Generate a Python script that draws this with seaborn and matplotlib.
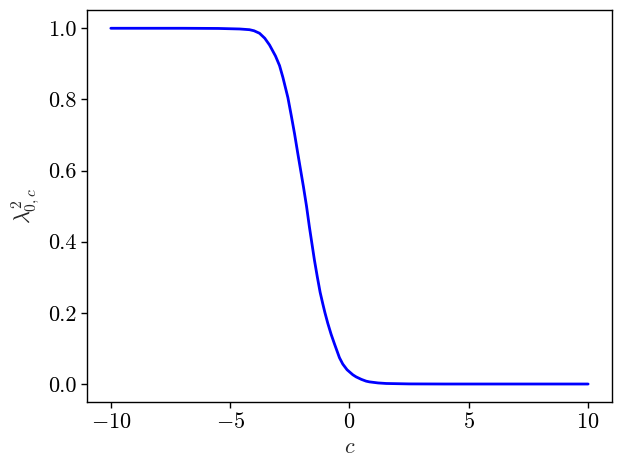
import matplotlib
matplotlib.use("Agg")
import matplotlib.pyplot as plt
import seaborn as sns
import pandas as pd

c_values = [-10.0, -7.0, -5.5, -4.6, -4.19, -4.0, -3.77, -3.55, -3.35, -3.1, -2.93, -2.79,
            -2.58, -2.44, -2.3, -2.17, -1.93, -1.8, -1.68, -1.47, -1.35, -1.23, -1.12,
            -1.03, -0.91, -0.77, -0.63, -0.42, -0.28, -0.1, 0.14, 0.28, 0.5, 0.70, 0.84,
            1.2, 1.54, 2.5, 4.0, 7.0, 10.0]
lam_values = [1.0, 1.0, 0.9995, 0.998, 0.996, 0.993, 0.986, 0.972, 0.953, 0.922, 0.895, 0.862,
              0.805, 0.755, 0.703, 0.650, 0.555, 0.500, 0.442, 0.349, 0.302, 0.258, 0.226,
              0.201, 0.171, 0.140, 0.113, 0.074, 0.056, 0.040, 0.026, 0.020, 0.013, 0.008, 0.006,
              0.003, 0.0015, 0.0003, 0.0, 0.0, 0.0]

df = pd.DataFrame({"c": c_values, "lam": lam_values})

sns.set_style("ticks")
plt.rcParams["font.family"] = ["serif"]
plt.rcParams["font.serif"] = ["cmr10", "DejaVu Serif"]
plt.rcParams["mathtext.fontset"] = "cm"
plt.rcParams["axes.formatter.use_mathtext"] = True
plt.rcParams["axes.unicode_minus"] = True

fig, ax = plt.subplots(figsize=(6.23, 4.70), dpi=100)
sns.lineplot(data=df, x="c", y="lam", color="blue", linewidth=2.0, ax=ax)
ax.set_xlim(-11, 11)
ax.set_ylim(-0.05, 1.05)
ax.set_xticks([-10, -5, 0, 5, 10])
ax.set_yticks([0.0, 0.2, 0.4, 0.6, 0.8, 1.0])
ax.set_yticklabels(["0.0", "0.2", "0.4", "0.6", "0.8", "1.0"])
ax.tick_params(labelsize=16, direction="out", length=4, width=1, colors="black")
ax.set_xlabel(r"$c$", fontsize=16)
ax.set_ylabel(r"$\lambda_{0,c}^{2}$", fontsize=16)
for s in ax.spines.values():
    s.set_visible(True)
    s.set_color("black")
    s.set_linewidth(1.0)
fig.subplots_adjust(left=0.1396, right=0.9823, top=0.9777, bottom=0.1451)
fig.savefig("out.png", dpi=100)
